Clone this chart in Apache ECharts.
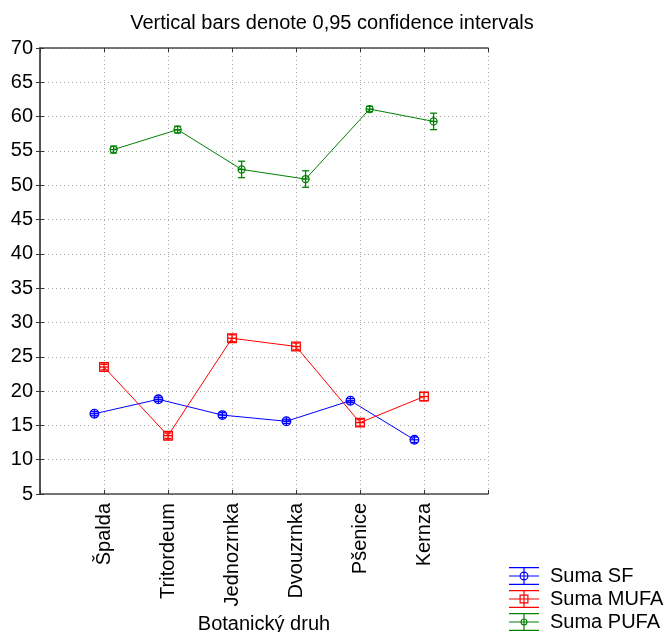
<!DOCTYPE html>
<html>
<head>
<meta charset="utf-8">
<script src="https://cdn.jsdelivr.net/npm/echarts@6/dist/echarts.min.js"></script>
<style>html,body{margin:0;padding:0;background:#fff;}#c{width:664px;height:632px;}</style>
</head>
<body>
<div id="c"></div>
<script>
// ---- data ----
const categories = ['Špalda', 'Tritordeum', 'Jednozrnka', 'Dvouzrnka', 'Pšenice', 'Kernza'];
const yTicks = [5, 10, 15, 20, 25, 30, 35, 40, 45, 50, 55, 60, 65, 70];
const seriesNames = ['Suma SF', 'Suma MUFA', 'Suma PUFA'];
const sfMean = [16.7, 18.8, 16.5, 15.6, 18.6, 12.9];
const sfCI = [0.3, 0.3, 0.35, 0.3, 0.3, 0.4];
const mufaMean = [23.5, 13.5, 27.7, 26.5, 15.4, 19.2];
const mufaCI = [0.4, 0.4, 0.5, 0.5, 0.5, 0.6];
const pufaMean = [55.2, 58.1, 52.3, 50.9, 61.1, 59.3];
const pufaCI = [0.5, 0.5, 1.2, 1.2, 0.4, 1.2];

const FONT = 'Liberation Sans, Arial, sans-serif';
const FS = 20;
const colors = ['#0000ff', '#ff0000', '#008000'];
const offsets = [-0.15, 0, 0.15];
const shapes = ['circle', 'square', 'smallcircle'];

function buildData(mean, ci, off) {
  return mean.map((m, i) => [i + 1 + off, m, m - ci[i], m + ci[i]]);
}

function makeRender(shape) {
  return function (params, api) {
    const x = api.value(0), y = api.value(1), lo = api.value(2), hi = api.value(3);
    const p = api.coord([x, y]);
    const pl = api.coord([x, lo]);
    const ph = api.coord([x, hi]);
    const color = api.visual('color');
    const cap = 3.5;
    const r = shape === 'smallcircle' ? 3.5 : 4.3;
    const st = { stroke: color, lineWidth: 1.3, fill: 'none' };
    const top = Math.min(ph[1], p[1] - r);
    const bot = Math.max(pl[1], p[1] + r);
    const children = [
      { type: 'line', shape: { x1: p[0], y1: top, x2: p[0], y2: bot }, style: st },
      { type: 'line', shape: { x1: p[0] - cap, y1: ph[1], x2: p[0] + cap, y2: ph[1] }, style: st },
      { type: 'line', shape: { x1: p[0] - cap, y1: pl[1], x2: p[0] + cap, y2: pl[1] }, style: st },
      { type: 'line', shape: { x1: p[0] - r, y1: p[1], x2: p[0] + r, y2: p[1] }, style: st }
    ];
    if (shape === 'square') {
      children.push({ type: 'rect', shape: { x: p[0] - r, y: p[1] - r, width: 2 * r, height: 2 * r }, style: st });
    } else {
      children.push({ type: 'circle', shape: { cx: p[0], cy: p[1], r: r }, style: st });
    }
    return { type: 'group', children: children };
  };
}

const lines = 'M0,0H30V1.2H0Z M0,8.4H30V9.6H0Z M0,16.8H30V18H0Z M14.4,0H15.6V18H14.4Z ';
const icons = [
  'path://' + lines + 'M10.5,9A4.5,4.5,0,1,1,19.5,9A4.5,4.5,0,1,1,10.5,9Z M11.7,9A3.3,3.3,0,1,0,18.3,9A3.3,3.3,0,1,0,11.7,9Z',
  'path://' + lines + 'M10.5,4.5H19.5V13.5H10.5Z M11.7,5.7V12.3H18.3V5.7Z',
  'path://' + lines + 'M11.5,9A3.5,3.5,0,1,1,18.5,9A3.5,3.5,0,1,1,11.5,9Z M12.6,9A2.4,2.4,0,1,0,17.4,9A2.4,2.4,0,1,0,12.6,9Z'
];

const means = [sfMean, mufaMean, pufaMean];
const cis = [sfCI, mufaCI, pufaCI];

const series = [];
means.forEach((m, k) => {
  series.push({
    name: seriesNames[k], type: 'custom', renderItem: makeRender(shapes[k]),
    data: buildData(m, cis[k], offsets[k]), itemStyle: { color: colors[k] },
    encode: { x: 0, y: [1, 2, 3] }, z: 3, clip: false
  });
});
means.forEach((m, k) => {
  series.push({
    name: seriesNames[k], type: 'line', symbol: 'none',
    data: buildData(m, cis[k], offsets[k]).map(d => [d[0], d[1]]),
    lineStyle: { color: colors[k], width: 1 }, itemStyle: { color: colors[k] }, z: 2
  });
});

const legends = seriesNames.map((n, k) => ({
  orient: 'vertical', left: 509, top: 566 + k * 23, padding: 0,
  itemWidth: 30, itemHeight: 18,
  data: [{ name: n, icon: icons[k] }],
  itemStyle: { borderWidth: 0 },
  textStyle: { fontFamily: FONT, fontSize: FS, color: '#000', padding: [0, 0, 0, 6] }
}));

const chart = echarts.init(document.getElementById('c'), null, { renderer: 'canvas' });
const frameLine = { show: true, lineStyle: { color: '#4a4a4a', width: 1.5 } };
const grid = { type: [1, 3], color: '#a8a8a8', width: 1 };
chart.setOption({
  animation: false,
  backgroundColor: '#fff',
  textStyle: { fontFamily: FONT },
  title: {
    text: 'Vertical bars denote 0,95 confidence intervals',
    left: 'center', top: 8,
    textStyle: { fontFamily: FONT, fontSize: FS, fontWeight: 'normal', color: '#000' }
  },
  grid: { left: 40, top: 48, right: 176, bottom: 138, containLabel: false, outerBoundsMode: 'none' },
  legend: legends,
  xAxis: [{
    type: 'value', min: 0, max: 7, interval: 1, position: 'bottom',
    name: 'Botanický druh', nameLocation: 'middle', nameGap: 117,
    nameTextStyle: { fontFamily: FONT, fontSize: FS, color: '#000' },
    axisLine: frameLine,
    axisTick: { show: true, inside: true, length: 4, lineStyle: { color: '#333' } },
    axisLabel: {
      rotate: 90, margin: 9, fontFamily: FONT, fontSize: FS, color: '#000',
      formatter: v => (v >= 1 && v <= categories.length && Number.isInteger(v)) ? categories[v - 1] : ''
    },
    splitLine: { show: true, lineStyle: grid }
  }, {
    type: 'value', min: 0, max: 7, interval: 1, position: 'top',
    axisLine: frameLine, axisTick: { show: true, inside: true, length: 4, lineStyle: { color: '#333' } },
    axisLabel: { show: false }, splitLine: { show: false }
  }],
  yAxis: [{
    type: 'value', min: yTicks[0], max: yTicks[yTicks.length - 1], interval: yTicks[1] - yTicks[0],
    axisLine: frameLine,
    axisTick: { show: true, inside: true, length: 4, lineStyle: { color: '#333' } },
    axisLabel: { margin: 7, fontFamily: FONT, fontSize: FS, color: '#000' },
    splitLine: { show: true, lineStyle: grid }
  }, {
    type: 'value', min: yTicks[0], max: yTicks[yTicks.length - 1], interval: yTicks[1] - yTicks[0],
    position: 'right',
    axisLine: frameLine, axisTick: { show: true, inside: true, length: 4, lineStyle: { color: '#333' } },
    axisLabel: { show: false }, splitLine: { show: false }
  }],
  series: series
});
</script>
</body>
</html>
